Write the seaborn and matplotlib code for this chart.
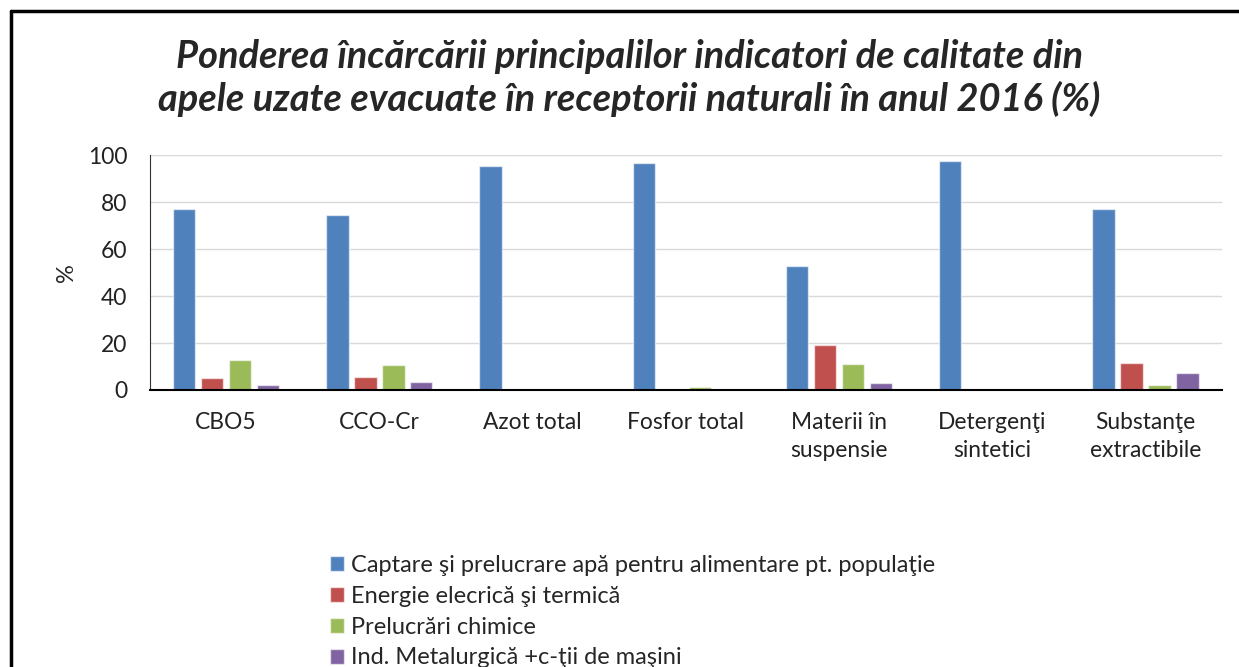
import matplotlib
matplotlib.use('Agg')
import matplotlib.pyplot as plt
from matplotlib.lines import Line2D
import pandas as pd
import seaborn as sns

categories = ['CBO5', 'CCO-Cr', 'Azot total', 'Fosfor total',
              'Materii în\nsuspensie', 'Detergenţi\nsintetici', 'Substanţe\nextractibile']
series = ['Captare şi prelucrare apă pentru alimentare pt. populaţie',
          'Energie elecrică şi termică',
          'Prelucrări chimice',
          'Ind. Metalurgică +c-ţii de maşini']
captare = [77.0, 74.5, 95.7, 96.6, 53.0, 97.8, 77.0]
energie = [5.0, 5.5, 0.0, 0.0, 19.1, 0.0, 11.5]
chimice = [12.6, 10.5, 0.0, 1.2, 11.0, 0.0, 2.3]
metal = [2.3, 3.4, 0.0, 0.0, 2.8, 0.0, 7.2]
colors = ['#4F81BD', '#C0504D', '#9BBB59', '#8064A2']
title = ('Ponderea încărcării principalilor indicatori de calitate din\n'
         'apele uzate evacuate în receptorii naturali în anul 2016 (%)')

rows = []
for name, vals in zip(series, [captare, energie, chimice, metal]):
    for cat, v in zip(categories, vals):
        rows.append({'Indicator': cat, 'Sector': name, 'Valoare': v})
df = pd.DataFrame(rows)

sns.set_style('white')
plt.rcParams['font.family'] = ['Lato', 'DejaVu Sans']

fig = plt.figure(figsize=(12.39, 6.67), dpi=100)
ax = fig.add_axes([0.1207, 0.4153, 0.8656, 0.3516])

sns.barplot(data=df, x='Indicator', y='Valoare', hue='Sector', order=categories,
            hue_order=series, palette=colors, width=0.73, gap=0.2,
            edgecolor=(1, 1, 1, 0.6), linewidth=1, saturation=1, ax=ax)

ax.set_ylim(0, 100)
ax.set_yticks(range(0, 101, 20))
ax.yaxis.grid(True, color='#D9D9D9', linewidth=1)
ax.set_axisbelow(True)
for side in ['top', 'right']:
    ax.spines[side].set_visible(False)
ax.spines['left'].set_color('#333333')
ax.spines['bottom'].set_color('black')
ax.spines['bottom'].set_linewidth(1.5)
ax.tick_params(axis='x', length=0, pad=16, labelsize=16.4, colors='#222222')
ax.tick_params(axis='y', length=0, pad=16, labelsize=16.5, colors='#222222')
for lbl in ax.get_xticklabels():
    lbl.set_linespacing(1.4)
ax.set_xlabel('')
ax.set_ylabel('%', fontsize=17, labelpad=8)

fig.text(0.508, 0.883, title, ha='center', va='center', fontsize=27.4,
         fontweight='bold', fontstyle='italic', linespacing=1.2)

sns.move_legend(ax, loc='upper left', bbox_to_anchor=(0.257, 0.186),
                bbox_transform=fig.transFigure, frameon=False, title=None,
                fontsize=17, handlelength=0.6, handleheight=0.6,
                handletextpad=0.3, labelspacing=0.42, borderpad=0)

# outer chart frame (top and left edges visible)
fig.add_artist(Line2D([0.009, 1.0], [0.9835, 0.9835], color='black', linewidth=2.5,
                      transform=fig.transFigure))
fig.add_artist(Line2D([0.009, 0.009], [0.0, 0.9835], color='black', linewidth=2.5,
                      transform=fig.transFigure))

plt.savefig('out.png', dpi=100)
plt.close()
